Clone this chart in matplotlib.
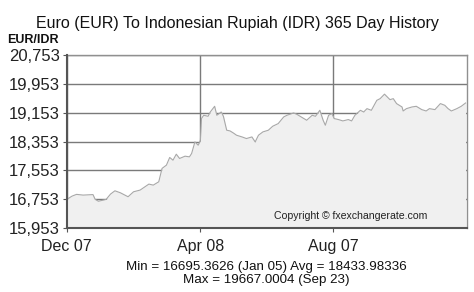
import matplotlib
matplotlib.use("Agg")
import matplotlib.pyplot as plt

# EUR/IDR daily rate, days counted from Dec 07
days = [0, 5, 9, 15, 24, 26, 29, 36, 40, 44, 49, 56, 61, 67, 75, 79, 84, 87,
        91, 94, 97, 100, 103, 108, 112, 114, 117, 120, 122, 123, 125, 129,
        131, 135, 137, 141, 143, 146, 149, 152, 155, 160, 164, 169, 172, 175,
        179, 184, 188, 193, 198, 201, 207, 210, 214, 219, 224, 227, 231, 234,
        236, 239, 242, 244, 248, 252, 257, 260, 263, 268, 271, 274, 278, 283,
        286, 290, 295, 298, 301, 306, 307, 310, 315, 319, 324, 328, 331, 336,
        341, 345, 348, 351, 356, 360, 364]
rates = [16747, 16839, 16886, 16866, 16880, 16747, 16695, 16747, 16894, 16985,
         16930, 16820, 16958, 17005, 17171, 17143, 17235, 17606, 17697, 17910,
         17835, 18001, 17882, 17946, 17927, 18020, 18342, 18250, 18389, 18990,
         19081, 19053, 19172, 19330, 19081, 19172, 19053, 18666, 18647, 18591,
         18527, 18480, 18435, 18480, 18342, 18527, 18619, 18666, 18777, 18850,
         19034, 19081, 19145, 19108, 19034, 18943, 19081, 19053, 19219, 18943,
         18804, 19081, 19127, 18990, 18962, 18924, 18962, 18924, 19081, 19219,
         19172, 19265, 19219, 19496, 19542, 19667, 19514, 19542, 19405, 19311,
         19200, 19265, 19311, 19330, 19238, 19200, 19265, 19238, 19405, 19358,
         19265, 19200, 19265, 19330, 19422]

y_ticks = [15953, 16753, 17553, 18353, 19153, 19953, 20753]
x_tick_days = [0, 122, 243]
x_tick_labels = ["Dec 07", "Apr 08", "Aug 07"]

title = "Euro (EUR) To Indonesian Rupiah (IDR) 365 Day History"
stats_line1 = "Min = 16695.3626 (Jan 05) Avg = 18433.98336"
stats_line2 = "Max = 19667.0004 (Sep 23)"

plt.rcParams['font.family'] = ['Liberation Sans', 'DejaVu Sans']

fig = plt.figure(figsize=(4.74, 2.92), dpi=100)
ax = fig.add_axes([0.1407, 0.2192, 0.8439, 0.5924])

ax.fill_between(days, rates, y_ticks[0], color='#f0f0f0', zorder=2, linewidth=0)
ax.plot(days, rates, color='#a8a8a8', linewidth=0.8, zorder=3)

ax.set_xlim(0, 365)
ax.set_ylim(y_ticks[0], y_ticks[-1])
ax.set_yticks(y_ticks)
ax.set_yticklabels([f"{v:,}" for v in y_ticks])
ax.set_xticks(x_tick_days)
ax.set_xticklabels(x_tick_labels)

ax.grid(True, color='#7a7a7a', linewidth=1.0, zorder=1)
ax.set_axisbelow(True)

for side in ['top', 'right']:
    ax.spines[side].set_color('#909090')
    ax.spines[side].set_linewidth(1.0)
for side in ['left', 'bottom']:
    ax.spines[side].set_color('#555555')
    ax.spines[side].set_linewidth(1.5)
    ax.spines[side].set_zorder(4)

ax.tick_params(axis='y', labelsize=12, length=3, color='#555555', pad=2,
               labelcolor='#222222')
ax.tick_params(axis='x', labelsize=11.5, length=3, color='#555555', pad=5,
               labelcolor='#222222')

fig.text(0.5, 0.921, title, ha='center', va='center', fontsize=11.5, color='#111111')
fig.text(0.015, 0.862, "EUR/IDR", ha='left', va='center', fontsize=9,
         fontweight='bold', color='#111111')
ax.text(0.71, 0.07, "Copyright \u00a9 fxexchangerate.com", transform=ax.transAxes,
        ha='center', va='center', fontsize=7.6, color='#222222', zorder=5)
fig.text(0.561, 0.087, stats_line1, ha='center', va='center', fontsize=9.6,
         color='#111111')
fig.text(0.561, 0.041, stats_line2, ha='center', va='center', fontsize=9.6,
         color='#111111')

fig.savefig("out.png", dpi=100)
